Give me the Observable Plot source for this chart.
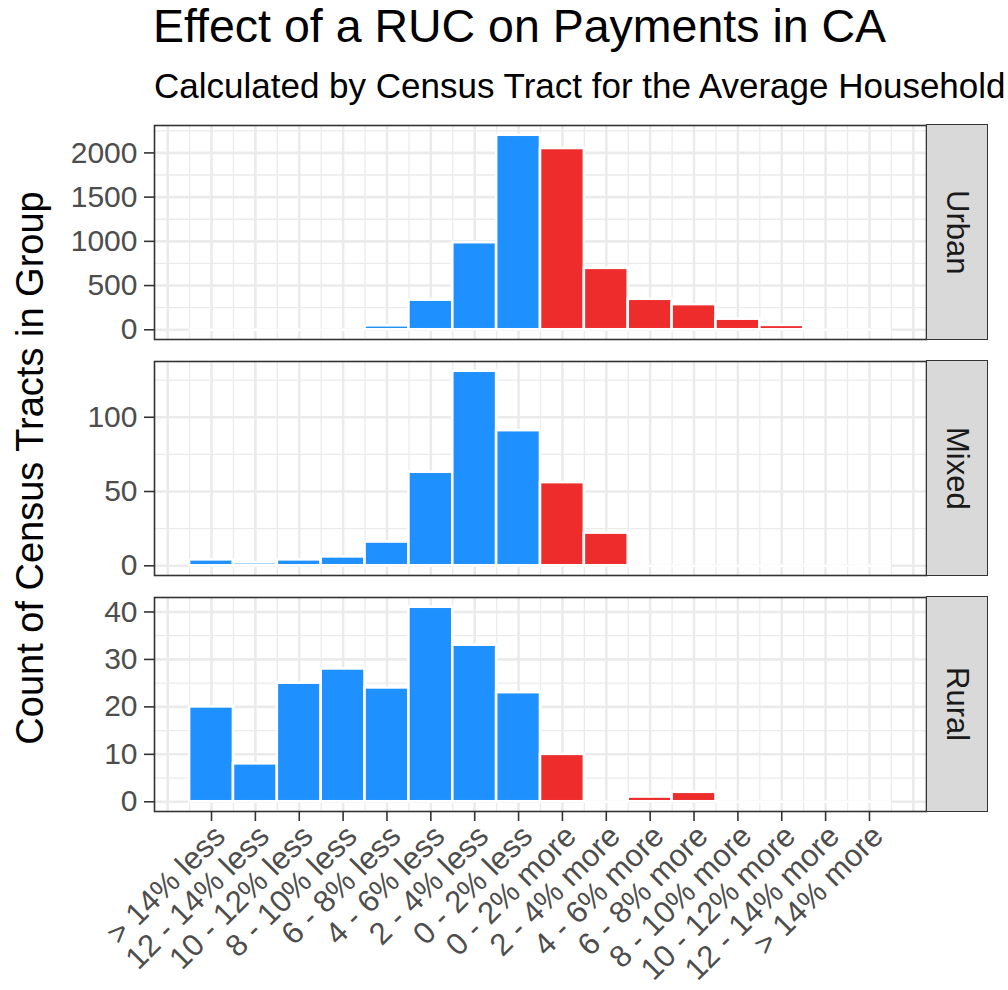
<!DOCTYPE html>
<html><head><meta charset="utf-8">
<script src="https://cdn.jsdelivr.net/npm/d3@7"></script>
<script src="https://cdn.jsdelivr.net/npm/@observablehq/plot@0.6"></script>
<style>
body{margin:0;background:#fff;font-family:"Liberation Sans",Arial,sans-serif;}
#wrap{position:relative;width:1008px;height:990px;overflow:hidden;background:#fff;}
.abs{position:absolute;white-space:nowrap;line-height:1;}
#title{left:153px;top:3px;font-size:46.5px;color:#000;}
#subtitle{left:154px;top:68px;font-size:35px;color:#000;}
#ylab{left:30px;top:468px;font-size:38px;color:#000;transform:translate(-50%,-50%) rotate(-90deg);}
.strip{position:absolute;box-sizing:border-box;background:#d9d9d9;border:1.6px solid #333;display:flex;align-items:center;justify-content:center;}
.strip span{writing-mode:vertical-rl;font-size:31px;color:#1a1a1a;line-height:1;}
.panel{position:absolute;left:0;}
</style></head><body><div id="wrap">
<div id="title" class="abs">Effect of a RUC on Payments in CA</div>
<div id="subtitle" class="abs">Calculated by Census Tract for the Average Household</div>
<div id="ylab" class="abs">Count of Census Tracts in Group</div>
</div>
<script>
const categories = ["> 14% less","12 - 14% less","10 - 12% less","8 - 10% less","6 - 8% less","4 - 6% less","2 - 4% less","0 - 2% less","0 - 2% more","2 - 4% more","4 - 6% more","6 - 8% more","8 - 10% more","10 - 12% more","12 - 14% more","> 14% more"];
const groups = ["Urban","Mixed","Rural"];
const urban = [0,0,0,0,45,335,985,2200,2050,695,345,285,120,50,0,0];
const mixed = [4,2,4,6,16,63,131,91,56,22,0,0,0,0,0,0];
const rural = [20,8,25,28,24,41,33,23,10,0,1,2,0,0,0,0];
const urbanTicks = [0,500,1000,1500,2000];
const mixedTicks = [0,50,100];
const ruralTicks = [0,10,20,30,40];
const lessColor = "#1E90FF";
const moreColor = "#EE2C2C";

const series = [urban, mixed, rural];
const tickSets = [urbanTicks, mixedTicks, ruralTicks];
const panelTops = [125, 361, 597];
const innerH = 214;
const W = 1008, mL = 154, mR = 82;
const wrap = document.getElementById("wrap");

const xMajor = d3.range(-1, categories.length + 1);
const xMinor = d3.range(-0.5, categories.length, 1);
const xIdx = d3.range(categories.length);

groups.forEach((g, k) => {
  const vals = series[k];
  const rows = categories.map((c, i) => ({i, cat: c, value: vals[i], more: c.endsWith("more")}));
  const M = d3.max(vals);
  const ticks = tickSets[k];
  const step = ticks[1] - ticks[0];
  const yMinor = d3.range(step / 2, M * 1.05, step);
  const bottom = k === groups.length - 1;
  const mT = 5, mB = bottom ? 179 : 5;
  const chart = Plot.plot({
    width: W,
    height: innerH + mT + mB,
    marginLeft: mL, marginRight: mR, marginTop: mT, marginBottom: mB,
    x: {type: "linear", domain: [-1.3, categories.length - 1 + 1.3], axis: null, label: null},
    y: {domain: [-0.05 * M, 1.05 * M], axis: null, label: null},
    style: {fontFamily: "Liberation Sans, Arial, sans-serif", background: "transparent", overflow: "visible"},
    marks: [
      Plot.ruleX(xMinor, {stroke: "#ebebeb", strokeWidth: 1.3}),
      Plot.ruleY(yMinor, {stroke: "#ebebeb", strokeWidth: 1.3}),
      Plot.ruleX(xMajor, {stroke: "#ebebeb", strokeWidth: 2.6}),
      Plot.ruleY(ticks, {stroke: "#ebebeb", strokeWidth: 2.6}),
      Plot.rectY(rows.filter(d => d.value > 0), {
        x1: d => d.i - 0.5, x2: d => d.i + 0.5, y: "value",
        fill: d => d.more ? moreColor : lessColor,
        stroke: "white", strokeWidth: 2.6
      }),
      Plot.ruleY(rows.filter(d => d.value === 0), {
        y: "value", x1: d => d.i - 0.5, x2: d => d.i + 0.5, stroke: "white", strokeWidth: 2.6
      }),
      Plot.frame({stroke: "#333", strokeWidth: 1.6}),
      Plot.axisY(ticks, {tickSize: 10, tickPadding: 7, fontSize: 30, label: null, tickFormat: d => String(d), fill: "#4d4d4d", stroke: "#333", strokeWidth: 1.6}),
      bottom ? Plot.axisX(xIdx, {tickSize: 10, label: null, fill: "none", stroke: "#333", strokeWidth: 1.6}) : null,
      bottom ? Plot.text(xIdx, {
        x: d => d, frameAnchor: "bottom", text: d => categories[d],
        rotate: -45, textAnchor: "end", lineAnchor: "top",
        dy: 11, fontSize: 31, fill: "#4d4d4d"
      }) : null
    ]
  });
  chart.classList.add("panel");
  chart.style.top = (panelTops[k] - mT) + "px";
  wrap.appendChild(chart);
  const strip = document.createElement("div");
  strip.className = "strip";
  strip.style.left = (W - mR) + "px";
  strip.style.top = (panelTops[k] - 0.8) + "px";
  strip.style.width = "62px";
  strip.style.height = (innerH + 1.6) + "px";
  const sp = document.createElement("span");
  sp.textContent = g;
  strip.appendChild(sp);
  wrap.appendChild(strip);
});
</script>
</body></html>
